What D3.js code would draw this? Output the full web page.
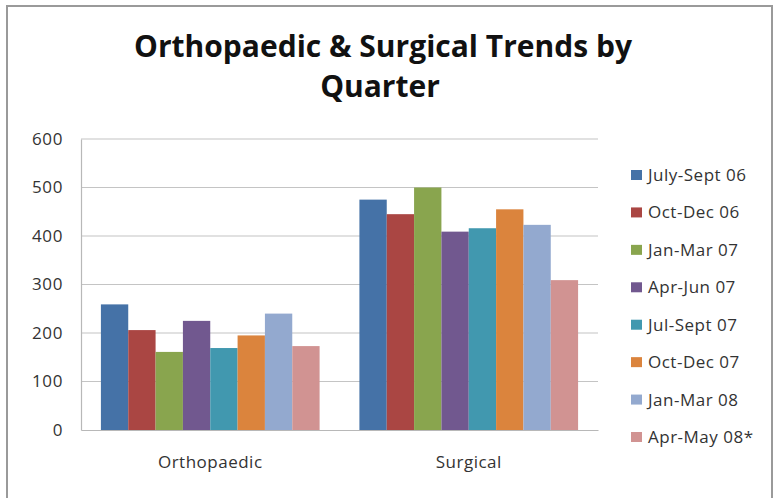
<!DOCTYPE html>
<html><head><meta charset="utf-8">
<script src="https://cdn.jsdelivr.net/npm/d3@7"></script>
<style>body{margin:0;background:#fff}svg{display:block}text{font-family:"Open Sans",Lato,sans-serif}</style>
</head><body><svg id="c" width="781" height="498"></svg>
<script>
const categories = ["Orthopaedic", "Surgical"];
const seriesNames = ["July-Sept 06","Oct-Dec 06","Jan-Mar 07","Apr-Jun 07","Jul-Sept 07","Oct-Dec 07","Jan-Mar 08","Apr-May 08*"];
const orthopaedicValues = [259, 206, 161, 225, 169, 195, 240, 173];
const surgicalValues = [475, 445, 500, 409, 416, 455, 423, 309];
const yTicks = [0, 100, 200, 300, 400, 500, 600];
const colors = ["#4572A7","#AA4643","#89A54E","#71588F","#4198AF","#DB843D","#93A9CF","#D19392"];
const titleLines = ["Orthopaedic & Surgical Trends by", "Quarter"];

const values = {Orthopaedic: orthopaedicValues, Surgical: surgicalValues};
const svg = d3.select("#c");
svg.append("rect").attr("x",7).attr("y",6).attr("width",765).attr("height",496)
  .attr("fill","#fff").attr("stroke","#9a9a9a").attr("stroke-width",2);

const L = 81, R = 598, T = 139, B = 430;
const y = d3.scaleLinear().domain([0, 600]).range([B, T]);
const x0 = d3.scaleBand().domain(categories).range([L, R]).paddingInner(0.154).paddingOuter(0.077);
const x1 = d3.scaleBand().domain(seriesNames).range([0, x0.bandwidth()]);

// gridlines
svg.append("g").selectAll("line").data(yTicks.filter(d=>d>0)).join("line")
  .attr("x1",L).attr("x2",R).attr("y1",d=>y(d)).attr("y2",d=>y(d))
  .attr("stroke","#c4c4c4").attr("stroke-width",1.2);

// y axis
const ya = svg.append("g").attr("transform",`translate(${L},0)`)
  .call(d3.axisLeft(y).tickValues(yTicks).tickSize(0).tickPadding(18));
ya.select(".domain").attr("stroke","#b8b8b8").attr("stroke-width",1.2);
ya.selectAll("text").style("font-size","17px").style("letter-spacing","0.6px").attr("fill","#333");

// bars
const g = svg.append("g");
categories.forEach(c => {
  g.append("g").attr("transform",`translate(${x0(c)},0)`)
   .selectAll("rect").data(values[c].map((v,i)=>({v,i}))).join("rect")
   .attr("x",d=>x1(seriesNames[d.i])).attr("width",x1.bandwidth())
   .attr("y",d=>y(d.v)).attr("height",d=>B-y(d.v))
   .attr("fill",d=>colors[d.i]);
});

// x axis
const xa = svg.append("g").attr("transform",`translate(0,${B})`)
  .call(d3.axisBottom(x0).tickSize(0).tickPadding(26));
xa.select(".domain").attr("stroke","#b8b8b8").attr("stroke-width",1.2);
xa.selectAll("text").style("font-size","17px").style("letter-spacing","0.5px").attr("fill","#333");

// title
titleLines.forEach((t,i)=>{
  svg.append("text").attr("x",i===0?383:380).attr("y",i===0?57:97).attr("text-anchor","middle")
    .style("font-size","30px").style("font-weight","bold").attr("fill","#111").text(t);
});

// legend
const leg = svg.append("g");
const ly = d3.scalePoint().domain(seriesNames).range([175, 437]);
seriesNames.forEach((s,i)=>{
  leg.append("rect").attr("x",631).attr("y",ly(s)-5).attr("width",11).attr("height",10).attr("fill",colors[i]);
  leg.append("text").attr("x",648).attr("y",ly(s)+6).style("font-size","17px").style("letter-spacing","0.5px")
    .attr("fill","#333").text(s);
});
</script></body></html>
